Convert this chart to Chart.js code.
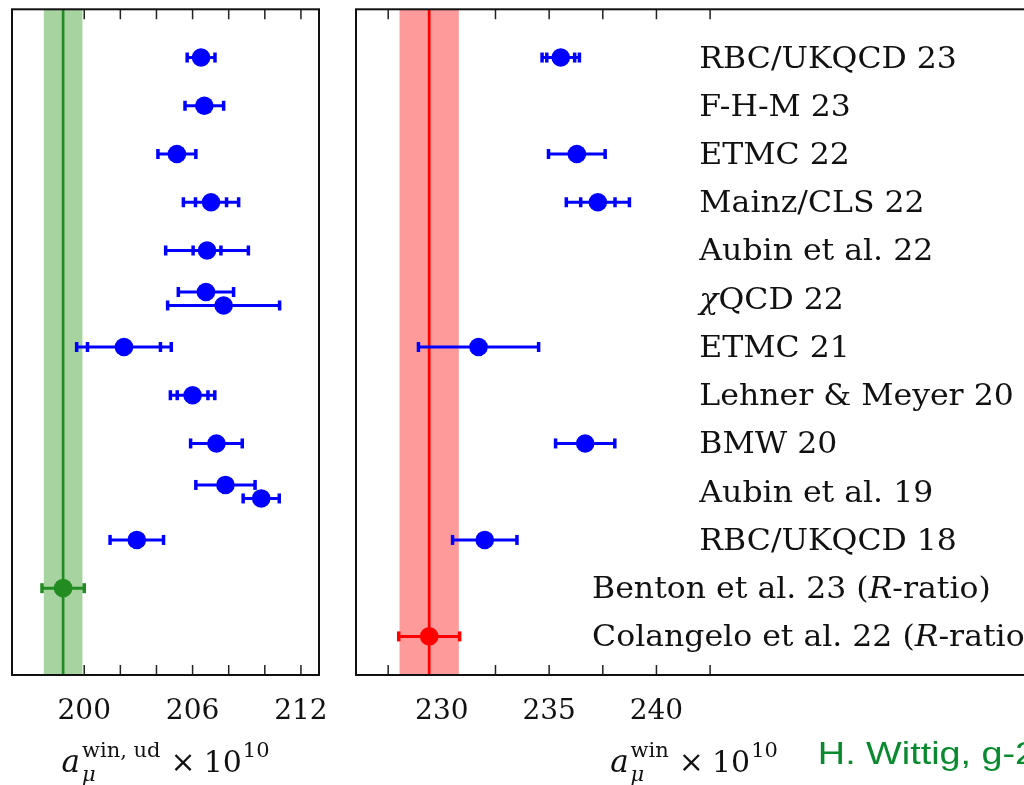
<!DOCTYPE html>
<html>
<head>
<meta charset="utf-8">
<script src="https://cdn.jsdelivr.net/npm/chart.js@4"></script>
<style>
html,body{margin:0;padding:0;background:#fff;overflow:hidden;}
#wrap{position:relative;width:1024px;height:785px;overflow:hidden;}
#cLeft{position:absolute;left:0;top:0;}
#cRight{position:absolute;left:340px;top:0;}
</style>
</head>
<body>
<div id="wrap">
<canvas id="cLeft" width="340" height="785"></canvas>
<canvas id="cRight" width="760" height="785"></canvas>
</div>
<script>
// row names, top to bottom
var labels = ['RBC/UKQCD 23','F-H-M 23','ETMC 22','Mainz/CLS 22','Aubin et al. 22','χQCD 22','ETMC 21',
  'Lehner & Meyer 20','BMW 20','Aubin et al. 19','RBC/UKQCD 18','Benton et al. 23 (R-ratio)','Colangelo et al. 22 (R-ratio)'];

// left panel: a_mu^{win,ud} x 1e10 (light quark connected)
var udRow   = [0,1,2,3,4,5,5,6,7,8,9,9,10];
var udSub   = [0,0,0,0,0,-1,1,0,0,0,-1,1,0];
var udValue = [206.47,206.65,205.13,207.02,206.80,206.74,207.72,202.20,206.00,207.32,207.82,209.80,202.91];
var udStat  = [null,null,null,0.86,0.77,null,null,2.02,0.85,null,null,null,null];
var udErr   = [0.77,1.07,1.05,1.53,2.29,1.53,3.10,2.62,1.23,1.43,1.64,1.00,1.48];
var udRef = 198.83, udRefErr = 1.17, udRefBand = 1.07, udRefRow = 11;
var udTicks = [198,200,202,204,206,208,210,212];
var udTickLabels = [200,206,212];

// right panel: full a_mu^{win} x 1e10
var winRow   = [0,2,3,6,8,10];
var winSub   = [0,0,0,0,0,0];
var winValue = [235.54,236.29,237.27,231.71,236.68,232.00];
var winStat  = [0.65,null,0.80,null,null,null];
var winErr   = [0.87,1.32,1.47,2.80,1.38,1.50];
var winRef = 229.41, winRefErr = 1.42, winRefBand = 1.38, winRefRow = 12;
var winTicks = [227.5,230,232.5,235,237.5,240,242.5];
var winTickLabels = [230,235,240];

var pairShift = 0.14;
var serif = '"DejaVu Serif"';

function drawErr(ctx, xs, ys, p, col){
  var y = ys.getPixelForValue(p.y);
  var x0 = xs.getPixelForValue(p.x - p.err), x1 = xs.getPixelForValue(p.x + p.err);
  ctx.strokeStyle = col; ctx.lineWidth = 3;
  ctx.beginPath(); ctx.moveTo(x0,y); ctx.lineTo(x1,y); ctx.stroke();
  ctx.lineWidth = 3.5;
  var caps = [x0,x1];
  if(p.stat){ caps.push(xs.getPixelForValue(p.x - p.stat), xs.getPixelForValue(p.x + p.stat)); }
  caps.forEach(function(cx){ ctx.beginPath(); ctx.moveTo(cx,y-5); ctx.lineTo(cx,y+5); ctx.stroke(); });
}

function drawLabel(ctx, text, x, y){
  var parts = text.split(/(χ|R(?=-ratio))/);
  ctx.save();
  ctx.translate(x, y);
  ctx.scale(1.05, 1);
  var cx = 0;
  parts.forEach(function(s){
    if(!s) return;
    var it = (s === 'χ' || s === 'R');
    ctx.font = (it ? 'italic ' : '') + '30px ' + serif;
    ctx.fillText(s, cx, 0);
    cx += ctx.measureText(s).width;
  });
  ctx.restore();
}

function drawTitle(ctx, cx, base, sup){
  var big = '30px ' + serif, bigI = 'italic 31px ' + serif, small = '21px ' + serif, smallI = 'italic 21px ' + serif;
  ctx.font = bigI; var wa = ctx.measureText('a').width;
  ctx.font = small; var ws = ctx.measureText(sup).width, ws10 = ctx.measureText('10').width;
  ctx.font = smallI; var wm = ctx.measureText('μ').width;
  ctx.font = big; var wt = ctx.measureText('×').width, w10 = ctx.measureText('10').width;
  var total = wa + 2 + Math.max(ws,wm) + 10 + wt + 8 + w10 + 1 + ws10;
  var x = cx - total/2;
  ctx.textAlign = 'left'; ctx.textBaseline = 'alphabetic';
  ctx.font = bigI; ctx.fillText('a', x, base); x += wa + 2;
  ctx.font = small; ctx.fillText(sup, x, base - 15);
  ctx.font = smallI; ctx.fillText('μ', x, base + 9);
  x += Math.max(ws,wm) + 10;
  ctx.font = big; ctx.fillText('×', x, base); x += wt + 8;
  ctx.fillText('10', x, base); x += w10 + 1;
  ctx.font = small; ctx.fillText('10', x, base - 15); x += ws10;
  return x;
}

function panelPlugin(cfg){
  return {
    id: 'panel',
    beforeDatasetsDraw: function(chart){
      var ctx = chart.ctx, a = chart.chartArea, xs = chart.scales.x, ys = chart.scales.y;
      ctx.save();
      ctx.strokeStyle = '#222'; ctx.lineWidth = 1.5;
      xs.ticks.forEach(function(t){
        var px = xs.getPixelForValue(t.value);
        ctx.beginPath();
        ctx.moveTo(px, a.bottom); ctx.lineTo(px, a.bottom - 10);
        ctx.moveTo(px, a.top); ctx.lineTo(px, a.top + 10);
        ctx.stroke();
      });
      var b0 = xs.getPixelForValue(cfg.ref - cfg.refBand), b1 = xs.getPixelForValue(cfg.ref + cfg.refBand);
      ctx.fillStyle = cfg.bandColor;
      ctx.fillRect(b0, a.top, b1 - b0, a.bottom - a.top);
      var c = xs.getPixelForValue(cfg.ref);
      ctx.strokeStyle = cfg.refColor; ctx.lineWidth = 2.7;
      ctx.beginPath(); ctx.moveTo(c, a.top); ctx.lineTo(c, a.bottom); ctx.stroke();
      chart.data.datasets.forEach(function(ds, k){
        var col = k === 0 ? '#0000ff' : cfg.refColor;
        ds.data.forEach(function(p){ drawErr(ctx, xs, ys, p, col); });
      });
      ctx.restore();
    },
    afterDatasetsDraw: function(chart){
      var ctx = chart.ctx, a = chart.chartArea;
      ctx.save();
      ctx.strokeStyle = '#111'; ctx.lineWidth = 2;
      ctx.strokeRect(a.left, a.top, a.right - a.left, a.bottom - a.top);
      ctx.restore();
    },
    afterDraw: function(chart){
      var ctx = chart.ctx, a = chart.chartArea, xs = chart.scales.x, ys = chart.scales.y;
      ctx.save();
      ctx.fillStyle = '#111';
      if(cfg.showLabels){
        ctx.textAlign = 'left'; ctx.textBaseline = 'alphabetic';
        labels.forEach(function(l, i){
          var lx = xs.getPixelForValue(i >= 11 ? 237 : 242);
          drawLabel(ctx, l, lx, ys.getPixelForValue(i) + 10);
        });
      }
      var end = drawTitle(ctx, (a.left + a.right)/2, 772, cfg.sup);
      if(cfg.credit){
        ctx.save();
        ctx.fillStyle = '#0a8a2e';
        ctx.font = '32px "Liberation Sans"';
        ctx.translate(end + 40, 764);
        ctx.scale(1.18, 1);
        ctx.fillText(cfg.credit, 0, 0);
        ctx.restore();
      }
      ctx.restore();
    }
  };
}

function makePanel(id, cfg){
  var points = cfg.value.map(function(v, i){
    return {x: v, y: cfg.row[i] + cfg.sub[i]*pairShift, err: cfg.err[i], stat: cfg.stat[i]};
  });
  return new Chart(document.getElementById(id), {
    type: 'scatter',
    data: {datasets: [
      {data: points, pointRadius: 9.3, pointBackgroundColor: '#0000ff', pointBorderWidth: 0},
      {data: [{x: cfg.ref, y: cfg.refRow, err: cfg.refErr, stat: null}], pointRadius: 9.3,
       pointBackgroundColor: cfg.refColor, pointBorderWidth: 0}
    ]},
    options: {
      responsive: false, animation: false, devicePixelRatio: 1, events: [],
      layout: {padding: cfg.padding},
      plugins: {legend: {display: false}, tooltip: {enabled: false}},
      scales: {
        x: {
          type: 'linear', min: cfg.min, max: cfg.max,
          grid: {display: false, drawTicks: false}, border: {display: false},
          afterBuildTicks: function(axis){ axis.ticks = cfg.ticks.map(function(v){ return {value: v}; }); },
          afterFit: function(axis){ axis.height = 110; axis.paddingLeft = 0; axis.paddingRight = 0; },
          ticks: {autoSkip: false, maxRotation: 0, padding: 20, color: '#111',
            font: {family: 'DejaVu Serif', size: 28},
            callback: function(v){ return cfg.tickLabels.indexOf(v) >= 0 ? String(v) : ''; }}
        },
        y: {type: 'linear', display: false, reverse: true, min: -1, max: 12.8}
      }
    },
    plugins: [panelPlugin(cfg)]
  });
}

makePanel('cLeft', {
  row: udRow, sub: udSub, value: udValue, stat: udStat, err: udErr,
  ref: udRef, refErr: udRefErr, refBand: udRefBand, refRow: udRefRow,
  refColor: '#228b22', bandColor: '#a6d3a0',
  min: 196, max: 213, ticks: udTicks, tickLabels: udTickLabels,
  padding: {left: 12, right: 21, top: 8, bottom: 0},
  sup: 'win, ud', showLabels: false
});

makePanel('cRight', {
  row: winRow, sub: winSub, value: winValue, stat: winStat, err: winErr,
  ref: winRef, refErr: winRefErr, refBand: winRefBand, refRow: winRefRow,
  refColor: '#ff0000', bandColor: '#ff9a9a',
  min: 226, max: 257.5, ticks: winTicks, tickLabels: winTickLabels,
  padding: {left: 16, right: 68, top: 8, bottom: 0},
  sup: 'win', showLabels: true, credit: 'H. Wittig, g-2'
});
</script>
</body>
</html>
